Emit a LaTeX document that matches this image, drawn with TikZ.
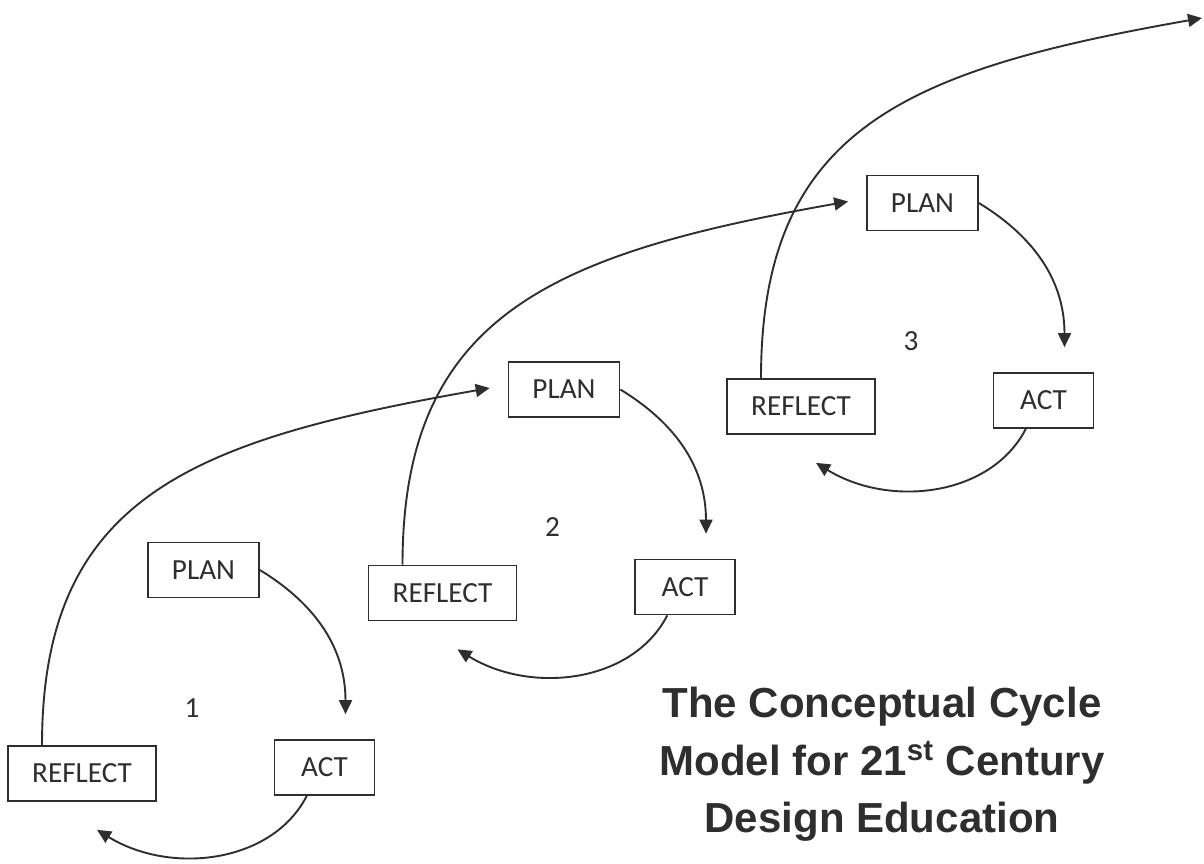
\documentclass[tikz,border=0pt]{standalone}
\usepackage{fontspec}
\setmainfont{Carlito}
\newfontfamily\titlefont{Liberation Sans}
\usepackage{xcolor}
\usetikzlibrary{arrows.meta, calc}
\definecolor{ink}{HTML}{2E2E2E}
\tikzset{
  stagebox/.style={rectangle, draw=ink, fill=white, line width=0.85pt, minimum height=27.5pt, inner sep=0pt, text=ink, font=\fontsize{14.6}{17}\selectfont},
  planbox/.style={stagebox, minimum width=55.5pt},
  actbox/.style={stagebox, minimum width=50pt},
  reflectbox/.style={stagebox, minimum width=74pt},
  cyclenum/.style={inner sep=0pt, text=ink, font=\fontsize{14.6}{17}\selectfont},
  titletext/.style={align=center, inner sep=0pt, text=ink, font=\titlefont\bfseries\fontsize{21}{28.75}\selectfont},
  arr/.style={-{Triangle[length=7pt, width=6.5pt]}, line width=0.95pt, draw=ink},
}

\begin{document}
\begin{tikzpicture}[x=0.5pt, y=-0.5pt]
  \useasboundingbox (0,0) rectangle (1204,863);

  % Three plan-act-reflect cycles
  \foreach \i/\px/\py in {1/203.5/570, 2/564/389.5, 3/922.5/203}{
    \node[planbox] (p\i) at (\px,\py) {PLAN};
    \node[actbox] (a\i) at ($(p\i)+(121,197.5)$) {ACT};
    \node[reflectbox] (r\i) at ($(p\i)+(-121.5,203.5)$) {REFLECT};
    \node[cyclenum] (n\i) at ($(p\i)+(-11.5,138)$) {\i};
    \coordinate (t\i) at ($(p\i.west)+(-18,-1.5)$);
  }
  \coordinate (t4) at (1202,18);

  % Arrows inside each cycle and on to the next one
  \foreach \i/\j in {1/2, 2/3, 3/4}{
    \draw[arr] (p\i.east) .. controls +(51,31) and +(0,-70) .. ($(a\i.north)+(21,-25)$);
    \draw[arr] (a\i.-122) .. controls +(-35,68) and +(73,45) .. ($(r\i.south)+(15,28)$);
    \draw[arr] ($(r\i.north)+(-40,0)$) .. controls +(0,-250) and +(-295,52) .. (t\j);
  }

  % Title
  \node[titletext, anchor=north] (title) at (882,687) {The Conceptual Cycle\\Model for 21\textsuperscript{st} Century\\Design Education};
\end{tikzpicture}
\end{document}
